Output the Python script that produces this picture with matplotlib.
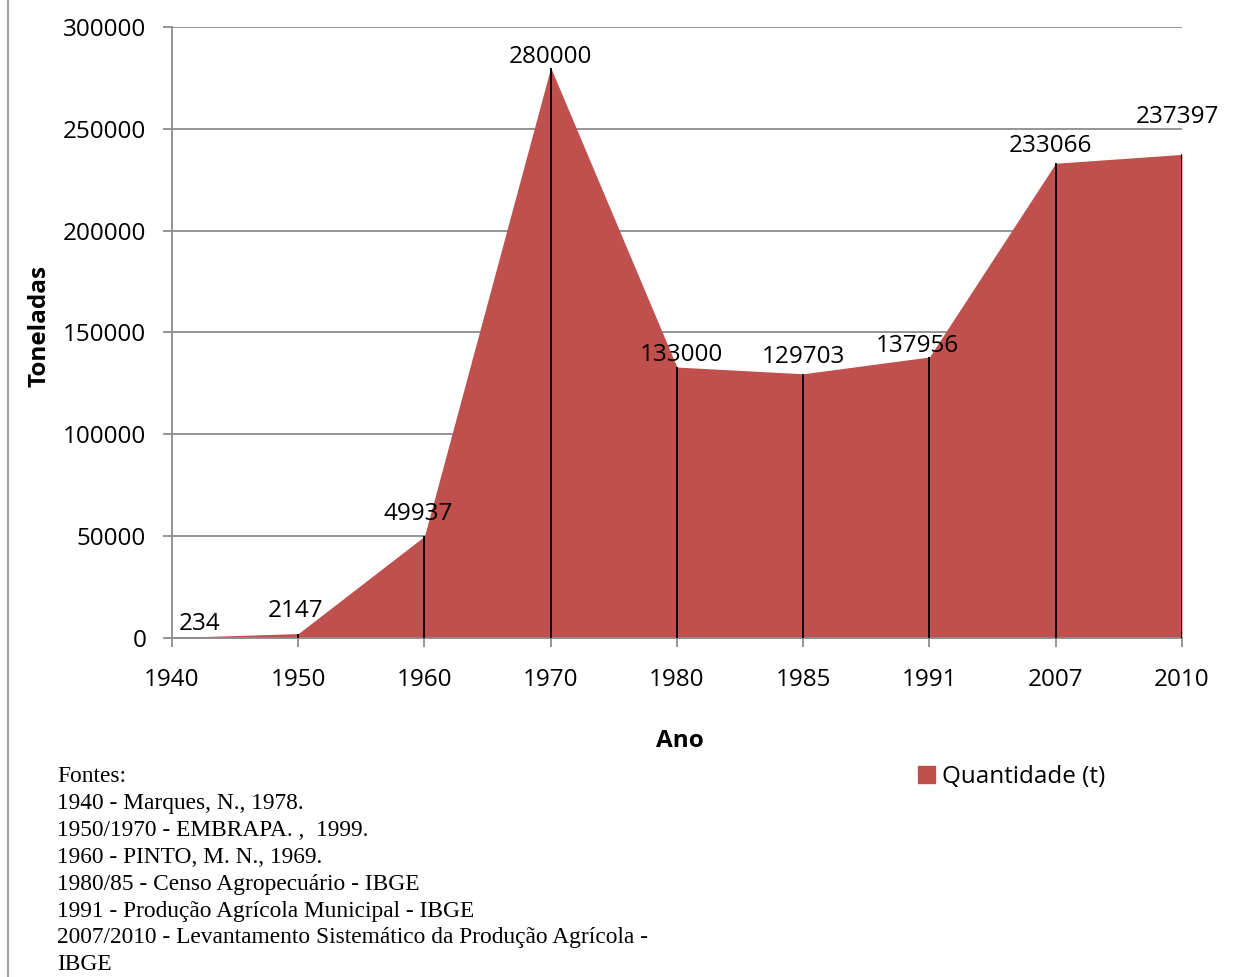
import numpy as np
import matplotlib.pyplot as plt
from matplotlib.lines import Line2D
from matplotlib.patches import Patch

# data
anos = ['1940', '1950', '1960', '1970', '1980', '1985', '1991', '2007', '2010']
quantidade = [234, 2147, 49937, 280000, 133000, 129703, 137956, 233066, 237397]
fontes = ["Fontes:",
          "1940 - Marques, N., 1978.",
          "1950/1970 - EMBRAPA. ,  1999.",
          "1960 - PINTO, M. N., 1969.",
          "1980/85 - Censo Agropecu\u00e1rio - IBGE",
          "1991 - Produ\u00e7\u00e3o Agr\u00edcola Municipal - IBGE",
          "2007/2010 - Levantamento Sistem\u00e1tico da Produ\u00e7\u00e3o Agr\u00edcola -",
          "IBGE"]

# label nudges in pixels (dx, dy), like the excel auto placement
lab_dx = [28, -3, -6, 0, 4, 0, -12, -5, -5]
lab_dy = [14, 23, 22, 11, 12, 17, 11, 17, 37]

plt.rcParams['font.family'] = ['Open Sans', 'DejaVu Sans']
fill_col = '#C0504D'
grid_col = '#8C8C8C'
fs = 17.5

fig = plt.figure(figsize=(12.37, 9.77), dpi=100)
ax = fig.add_axes([0.139, 0.347, 0.8165, 0.6255])

x = np.arange(len(anos))
ax.fill_between(x, quantidade, 0, color=fill_col, lw=0, zorder=2)
ax.vlines(x[1:], 0, quantidade[1:], color='black', lw=1.3, zorder=3)

for xi, v, dx, dy in zip(x, quantidade, lab_dx, lab_dy):
    ax.annotate(str(v), (xi, v), xytext=(dx, dy), textcoords='offset pixels',
                ha='center', va='center', fontsize=fs, color='black', zorder=4)

ax.set_xlim(0, len(anos) - 1)
ax.set_ylim(0, 300000)
ax.set_yticks(np.arange(0, 300001, 50000))
ax.set_xticks(x)
ax.set_xticklabels(anos)
ax.tick_params(axis='both', labelsize=fs, color=grid_col, length=6.5, width=1.3)
ax.tick_params(axis='x', direction='out', pad=15)
ax.tick_params(axis='y', pad=12)
ax.yaxis.grid(True, color=grid_col, lw=1.3, zorder=1)
ax.set_axisbelow(True)
for s in ['top', 'right']:
    ax.spines[s].set_visible(False)
for s in ['left', 'bottom']:
    ax.spines[s].set_color(grid_col)
    ax.spines[s].set_linewidth(1.3)

ax.set_xlabel('Ano', fontsize=fs, fontweight='bold', va='center')
ax.xaxis.set_label_coords(0.503, -0.1686)
ax.set_ylabel('Toneladas', fontsize=fs, fontweight='bold', va='center')
ax.yaxis.set_label_coords(-0.1307, 0.51)

fig.legend(handles=[Patch(color=fill_col, label='Quantidade (t)')], loc='center left',
           bbox_to_anchor=(0.742, 1 - 777 / 977), frameon=False, fontsize=fs,
           handlelength=0.7, handleheight=0.75, handletextpad=0.3,
           borderpad=0, borderaxespad=0)

y0 = 1 - 777 / 977
for i, line in enumerate(fontes):
    fig.text(57 / 1237, y0 - i * 26.8 / 977, line, family='Liberation Serif',
             fontsize=16.8, va='center', ha='left')

fig.add_artist(Line2D([8 / 1237, 8 / 1237], [0, 1], color='#A0A0A0', lw=1.5))

plt.savefig('out.png', dpi=100)
